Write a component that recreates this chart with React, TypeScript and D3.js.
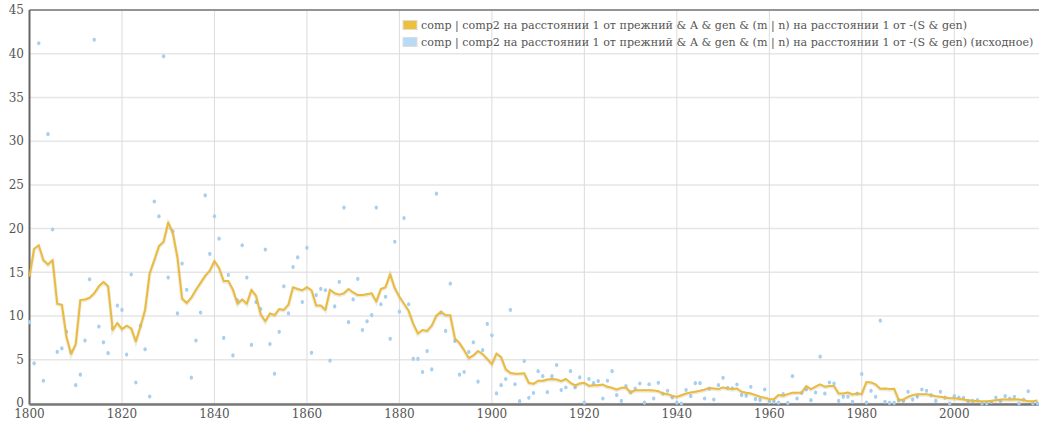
import React from 'react';
import * as d3 from 'd3';

// years 1800..2018
const startYear = 1800;
const endYear = 2018;

// smoothed series (yellow line)
const smoothed = [
  14.5, 17.7, 18.1, 16.4, 15.9, 16.4, 11.4, 11.3, 7.6, 5.65,
  6.8, 11.85, 11.9, 12.1, 12.6, 13.4, 13.9, 13.4, 8.4, 9.2,
  8.5, 8.9, 8.6, 7.1, 8.8, 10.7, 14.9, 16.4, 18.0, 18.5,
  20.7, 19.5, 16.7, 12.0, 11.5, 12.1, 13.0, 13.8, 14.6, 15.2,
  16.3, 15.5, 14.0, 14.0, 13.0, 11.4, 11.9, 11.4, 13.0, 12.3,
  10.2, 9.4, 10.3, 10.1, 10.8, 10.7, 11.3, 13.3, 13.1, 12.95,
  13.3, 12.95, 11.2, 11.2, 10.7, 13.0, 12.6, 12.45, 12.6, 13.1,
  12.7, 12.4, 12.4, 12.5, 12.6, 11.65, 13.1, 13.3, 14.8, 13.2,
  12.2, 11.4, 10.6, 9.1, 8.0, 8.4, 8.3, 8.9, 10.05, 10.5,
  10.1, 10.1, 7.45, 6.9, 6.1, 5.2, 5.5, 6.0, 5.65, 5.1,
  4.5, 5.7, 5.3, 3.9, 3.5, 3.4, 3.4, 3.45, 2.35, 2.25,
  2.6, 2.6, 2.75, 2.8, 2.75, 2.56, 2.8, 2.37, 2.06, 2.29,
  2.37, 2.02, 2.1, 2.1, 2.17, 1.91, 1.79, 1.6, 1.79, 1.83,
  1.26, 1.52, 1.52, 1.52, 1.52, 1.5, 1.41, 1.14, 1.07, 0.88,
  0.76, 0.95, 1.14, 1.26, 1.35, 1.45, 1.58, 1.78, 1.72, 1.65,
  1.84, 1.72, 1.65, 1.72, 1.34, 1.23, 1.15, 0.96, 0.77, 0.65,
  0.5, 0.5, 0.96, 0.88, 1.07, 1.23, 1.23, 1.27, 1.99, 1.65,
  1.92, 2.18, 1.92, 2.0, 2.0, 1.15, 1.15, 1.26, 1.03, 1.15,
  1.1, 2.45, 2.41, 2.18, 1.69, 1.72, 1.65, 1.69, 0.38, 0.46,
  0.77, 0.96, 1.07, 1.07, 1.07, 0.96, 0.84, 0.77, 0.69, 0.61,
  0.61, 0.54, 0.46, 0.38, 0.31, 0.27, 0.27, 0.27, 0.31, 0.38,
  0.46, 0.46, 0.46, 0.5, 0.46, 0.38, 0.27, 0.27, 0.35,
];

// raw series (blue dots)
const raw = [
  9.3, 4.6, 41.2, 2.6, 30.8, 19.9, 5.9, 6.3, 8.2, 5.9,
  2.1, 3.3, 7.2, 14.2, 41.6, 8.8, 7.0, 5.75, 8.6, 11.2,
  10.7, 5.6, 14.75, 2.4, 8.9, 6.2, 0.8, 23.1, 21.4, 39.7,
  14.4, 19.7, 10.3, 16.0, 13.0, 2.95, 7.2, 10.4, 23.8, 17.1,
  21.4, 18.85, 7.5, 14.7, 5.5, 11.8, 18.1, 14.4, 6.7, 11.6,
  10.8, 17.6, 6.8, 3.4, 8.2, 13.4, 10.3, 15.6, 16.7, 11.6,
  17.8, 5.8, 12.4, 13.1, 12.95, 4.9, 11.1, 13.9, 22.4, 9.3,
  11.9, 14.25, 8.4, 9.4, 10.1, 22.4, 11.35, 12.2, 7.4, 18.5,
  10.5, 21.2, 11.35, 5.1, 5.1, 3.6, 6.0, 3.9, 24.0, 10.4,
  8.3, 13.7, 7.15, 3.3, 3.6, 5.9, 7.0, 2.5, 6.1, 9.1,
  7.8, 1.15, 2.1, 2.8, 10.7, 2.2, 0.27, 4.85, 0.65, 1.2,
  3.7, 3.13, 1.3, 3.13, 4.4, 1.53, 1.83, 3.7, 1.83, 2.98,
  0.1, 2.8, 2.33, 2.56, 0.57, 2.6, 3.7, 0.95, 0.3, 2.0,
  1.3, 1.7, 2.29, 0.1, 2.2, 0.57, 2.37, 1.14, 1.45, 0.68,
  0.1, 0.0, 1.53, 0.84, 2.33, 2.33, 0.57, 1.7, 0.45, 2.1,
  2.94, 1.79, 1.72, 2.17, 0.95, 0.88, 1.91, 0.49, 0.38, 1.6,
  0.19, 0.19, 0.11, 1.07, 0.07, 3.13, 0.57, 1.22, 1.6, 0.38,
  1.26, 5.35, 1.14, 2.4, 2.29, 0.3, 0.76, 0.76, 0.19, 1.14,
  3.36, 0.11, 1.45, 0.76, 9.47, 0.2, 0.07, 0.07, 0.38, 0.3,
  1.33, 0.45, 0.76, 1.6, 1.45, 0.95, 0.3, 1.33, 0.68, 0.0,
  0.84, 0.68, 0.65, 0.26, 0.3, 0.38, 0.0, 0.0, 0.19, 0.68,
  0.3, 0.84, 0.57, 0.76, 0.0, 0.45, 1.4, 0.0, 0.0,
];

const xTicks = [1800, 1820, 1840, 1860, 1880, 1900, 1920, 1940, 1960, 1980, 2000];
const yTicks = [0, 5, 10, 15, 20, 25, 30, 35, 40, 45];

const seriesNames = [
  'comp | comp2 на расстоянии 1 от прежний & A & gen & (m | n) на расстоянии 1 от -(S & gen)',
  'comp | comp2 на расстоянии 1 от прежний & A & gen & (m | n) на расстоянии 1 от -(S & gen) (исходное)',
];

const W = 1039;
const H = 421;
const margin = { top: 10, right: 1.5, bottom: 17.5, left: 29.5 };
const font = '"DejaVu Serif", serif';

export default function App() {
  const years = d3.range(startYear, endYear + 1);
  const x = d3.scaleLinear().domain([startYear, endYear]).range([margin.left, W - margin.right]);
  const y = d3.scaleLinear().domain([0, 45]).range([H - margin.bottom, margin.top]);

  const line = d3
    .line<number>()
    .x((_, i) => x(years[i]))
    .y((d) => y(d));

  return (
    <svg width={W} height={H} style={{ position: 'fixed', left: 0, top: 0, background: '#fff' }}>
      {/* grid */}
      {yTicks.map((t) => (
        <line key={'gy' + t} x1={margin.left} x2={W} y1={y(t)} y2={y(t)} stroke="#e6e6e6" strokeWidth={1.5} />
      ))}
      {xTicks.map((t) => (
        <line key={'gx' + t} x1={x(t)} x2={x(t)} y1={margin.top} y2={y(0)} stroke="#dcdcdc" strokeWidth={1} />
      ))}

      {/* frame */}
      <line x1={margin.left} x2={W} y1={margin.top} y2={margin.top} stroke="#777" strokeWidth={1.5} />
      <line x1={margin.left} x2={margin.left} y1={margin.top} y2={y(0) + 1} stroke="#666" strokeWidth={2} />
      <line x1={margin.left} x2={W} y1={y(0) + 1} y2={y(0) + 1} stroke="#777" strokeWidth={2.5} />

      {/* tick labels */}
      {yTicks.map((t) => (
        <text key={'ly' + t} x={24} y={t === 0 ? y(t) - 1 : y(t)} dy="0.35em" textAnchor="end" fontFamily={font} fontSize={12} fill="#555">
          {t}
        </text>
      ))}
      {xTicks.map((t) => (
        <text key={'lx' + t} x={x(t)} y={418} textAnchor="middle" fontFamily={font} fontSize={12} fill="#555">
          {t}
        </text>
      ))}

      {/* raw points */}
      {raw.map((v, i) => (
        <ellipse key={'p' + i} cx={x(years[i])} cy={y(v)} rx={1.7} ry={2.1} fill="#a6cff0" />
      ))}

      {/* smoothed line */}
      <path d={line(smoothed) || ''} fill="none" stroke="rgba(120,90,0,0.12)" strokeWidth={3.5} transform="translate(0,0.8)" />
      <path d={line(smoothed) || ''} fill="none" stroke="#e9bb3f" strokeWidth={2} strokeLinejoin="round" />

      {/* legend */}
      <g fontFamily={font} fontSize={11.1} fill="#555">
        <rect x={403} y={20.5} width={14} height={9} fill="#eebf3a" stroke="#ddd" />
        <text x={421} y={29}>{seriesNames[0]}</text>
        <rect x={403} y={37.5} width={14} height={9} fill="#b7dbf7" stroke="#ddd" />
        <text x={421} y={46}>{seriesNames[1]}</text>
      </g>
    </svg>
  );
}
